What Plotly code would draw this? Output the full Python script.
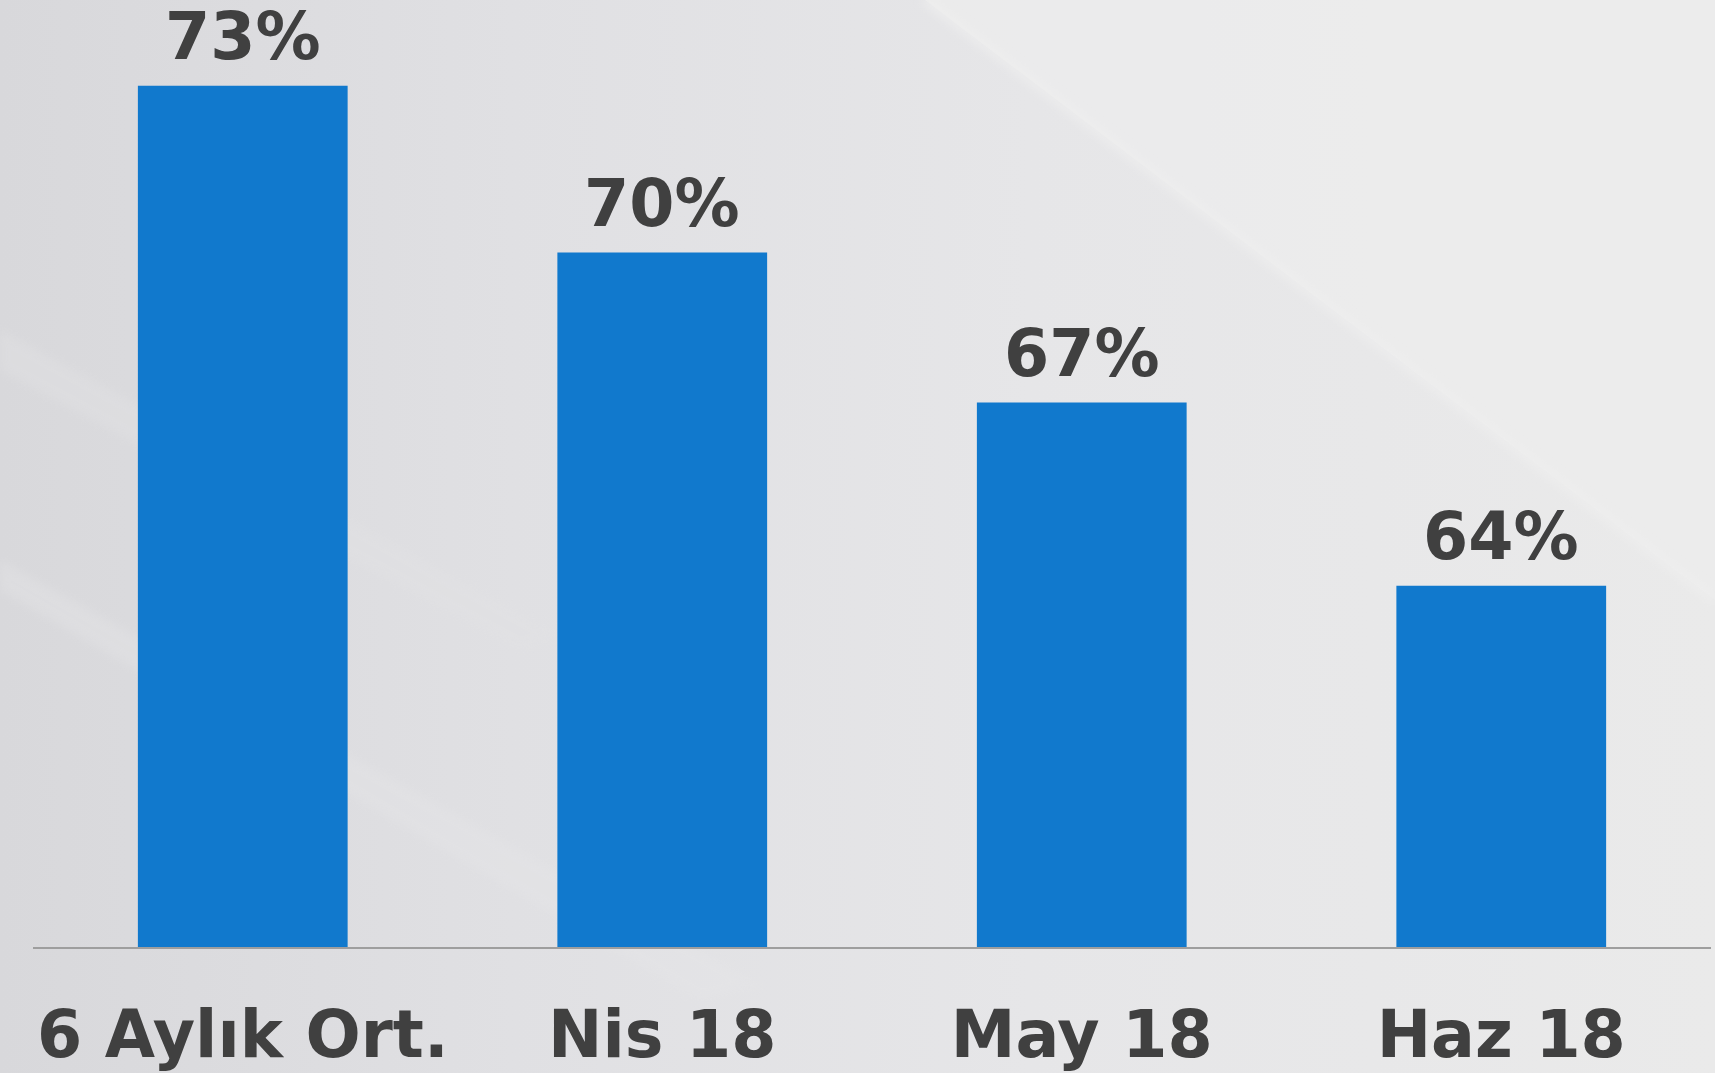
import base64
import plotly.graph_objects as go

# ---- data ----
categories = ["6 Aylık Ort.", "Nis 18", "May 18", "Haz 18"]
values = [73.0, 70.0, 67.3, 64.0]
value_labels = ["73%", "70%", "67%", "64%"]

# ---- style ----
BAR_COLOR = "#1179cd"
TEXT_COLOR = "#404040"
FONT = "DejaVu Sans, Verdana, sans-serif"

W, H = 1715, 1073
ML, MR, MT, MB = 33, 4, 20, 126
PW, PH = W - ML - MR, H - MT - MB

# background: soft grey gradient with a light diagonal ridge (decoration only)
svg = f"""<svg xmlns='http://www.w3.org/2000/svg' width='{W}' height='{H}' viewBox='0 0 {W} {H}'>
<defs>
<linearGradient id='g' x1='0' y1='0' x2='1' y2='0'>
<stop offset='0' stop-color='#d8d8db'/>
<stop offset='0.3' stop-color='#e0e0e3'/>
<stop offset='0.6' stop-color='#e6e6e8'/>
<stop offset='1' stop-color='#eaeaea'/>
</linearGradient>
<filter id='b'><feGaussianBlur stdDeviation='5'/></filter>
</defs>
<rect width='{W}' height='{H}' fill='url(#g)'/>
<polygon points='925,0 {W},0 {W},600' fill='#ececec' opacity='0.8'/>
<line x1='925' y1='0' x2='{W}' y2='600' stroke='#efefef' stroke-width='6' filter='url(#b)'/>
<polygon points='0,330 0,370 520,650 560,635' fill='#e2e2e4' opacity='0.4' filter='url(#b)'/>
<polygon points='0,560 0,590 700,1000 760,985' fill='#e6e6e8' opacity='0.35' filter='url(#b)'/>
</svg>"""
bg_uri = "data:image/svg+xml;base64," + base64.b64encode(svg.encode()).decode()

fig = go.Figure(
    go.Bar(
        x=categories,
        y=values,
        cliponaxis=False,
        marker=dict(color=BAR_COLOR, line=dict(width=0)),
        width=0.5,
        hoverinfo="skip",
    )
)

for c, v, t in zip(categories, values, value_labels):
    fig.add_annotation(
        x=c,
        y=v,
        text=t,
        showarrow=False,
        xanchor="center",
        yanchor="bottom",
        yshift=10,
        font=dict(family=FONT, size=65, color=TEXT_COLOR, weight="bold"),
    )

fig.update_layout(
    width=W,
    height=H,
    margin=dict(l=ML, r=MR, t=MT, b=MB, pad=0, autoexpand=False),
    paper_bgcolor="#e3e3e5",
    plot_bgcolor="rgba(0,0,0,0)",
    showlegend=False,
    bargap=0.5,
    images=[
        dict(
            source=bg_uri,
            xref="paper",
            yref="paper",
            x=-ML / PW,
            y=1 + MT / PH,
            sizex=W / PW,
            sizey=H / PH,
            sizing="stretch",
            xanchor="left",
            yanchor="top",
            layer="below",
        )
    ],
)

fig.update_xaxes(
    automargin=False,
    showline=True,
    linecolor="#9e9e9e",
    linewidth=2,
    showgrid=False,
    zeroline=False,
    ticks="outside",
    ticklen=30,
    tickcolor="rgba(0,0,0,0)",
    tickfont=dict(family=FONT, size=65, color=TEXT_COLOR, weight="bold"),
    fixedrange=True,
)
fig.update_yaxes(
    visible=False,
    automargin=False,
    range=[57.5, 57.5 + PH / 55.56],
    showgrid=False,
    zeroline=False,
    fixedrange=True,
)

fig.write_html(
    "out.html",
    config={"displayModeBar": False},
    post_script="document.body.style.margin='0';document.body.style.overflow='hidden';",
)
